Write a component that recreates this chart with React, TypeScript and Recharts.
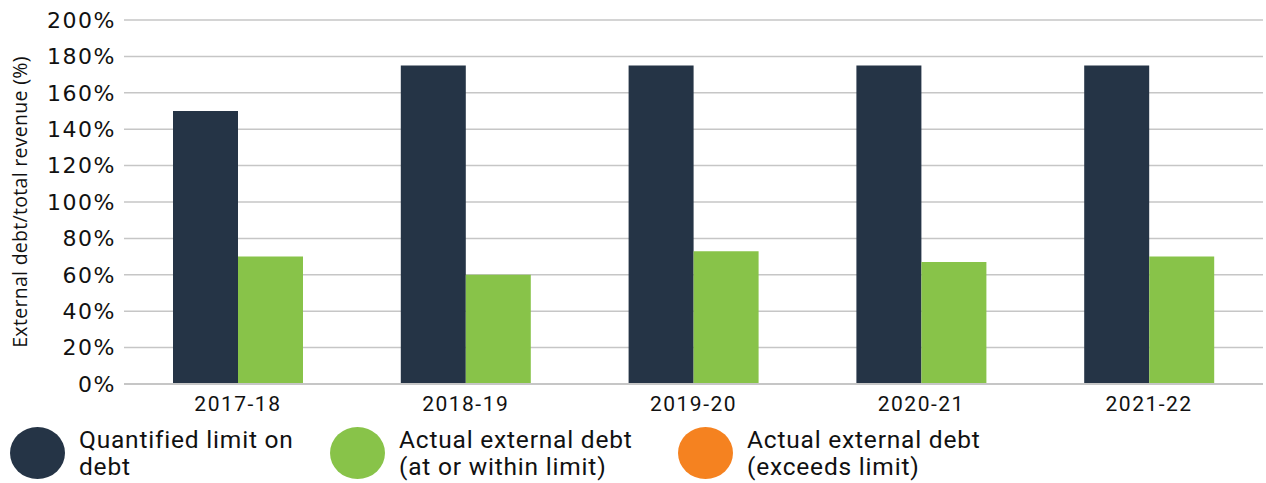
import { BarChart, Bar, XAxis, YAxis, CartesianGrid, Legend } from 'recharts'

// Financial years
const years = ['2017-18', '2018-19', '2019-20', '2020-21', '2021-22']
// Quantified limit on debt (% of total revenue)
const limitValues = [150, 175, 175, 175, 175]
// Actual external debt (% of total revenue)
const actualValues = [70, 60, 73, 67, 70]
const yTicks = [0, 20, 40, 60, 80, 100, 120, 140, 160, 180, 200]

const legendItems = [
  { color: '#253446', lines: ['Quantified limit on', 'debt'], left: 10 },
  { color: '#88c349', lines: ['Actual external debt', '(at or within limit)'], left: 330 },
  { color: '#f58220', lines: ['Actual external debt', '(exceeds limit)'], left: 678 },
]

const data = years.map((y, i) => ({ year: y, limit: limitValues[i], actual: actualValues[i] }))

const axisFont = '"DejaVu Sans", sans-serif'

const LegendContent = () => (
  <div style={{ position: 'relative', width: 1266, height: 62 }}>
    {legendItems.map((item) => (
      <div key={item.color} style={{ position: 'absolute', left: item.left, top: 5, display: 'flex', alignItems: 'center' }}>
        <div style={{ width: 55, height: 52, borderRadius: '50%', background: item.color }} />
        <div style={{ marginLeft: 14, fontFamily: 'Roboto, sans-serif', fontSize: 24.5, lineHeight: '27px', letterSpacing: 0.8, color: '#111' }}>
          {item.lines.map((l) => (
            <div key={l}>{l}</div>
          ))}
        </div>
      </div>
    ))}
  </div>
)

export default function App() {
  return (
    <div>
      <style>{`body{margin:0}`}</style>
      <BarChart
        width={1266}
        height={483}
        data={data}
        margin={{ top: 20, right: 3, bottom: 0, left: 0 }}
        barCategoryGap={49}
        barGap={0}
      >
        <CartesianGrid vertical={false} stroke="#c6c6c6" strokeWidth={1.5} />
        <XAxis
          dataKey="year"
          height={37}
          axisLine={{ stroke: '#c6c6c6', strokeWidth: 2 }}
          tickLine={false}
          tick={{ fontSize: 21, fill: '#111', fontFamily: 'Roboto, sans-serif', letterSpacing: 1.5 }}
          tickMargin={6}
        />
        <YAxis
          width={124}
          domain={[0, 200]}
          ticks={yTicks}
          interval={0}
          axisLine={false}
          tickLine={false}
          tickFormatter={(v) => `${v}%`}
          tick={{ fontSize: 22, fill: '#111', fontFamily: axisFont, letterSpacing: 1.5 }}
          label={({ viewBox }: any) => {
            const cx = 19
            const cy = viewBox.y + viewBox.height / 2
            return (
              <text
                x={cx}
                y={cy}
                transform={`rotate(-90 ${cx} ${cy})`}
                textAnchor="middle"
                dominantBaseline="central"
                fontSize={19.5}
                fontFamily='"Open Sans", sans-serif'
                letterSpacing={0.3}
                fill="#111"
              >
                External debt/total revenue (%)
              </text>
            )
          }}
        />
        <Legend verticalAlign="bottom" height={62} content={<LegendContent />} />
        <Bar dataKey="limit" fill="#253446" isAnimationActive={false} />
        <Bar dataKey="actual" fill="#88c349" isAnimationActive={false} />
      </BarChart>
    </div>
  )
}
